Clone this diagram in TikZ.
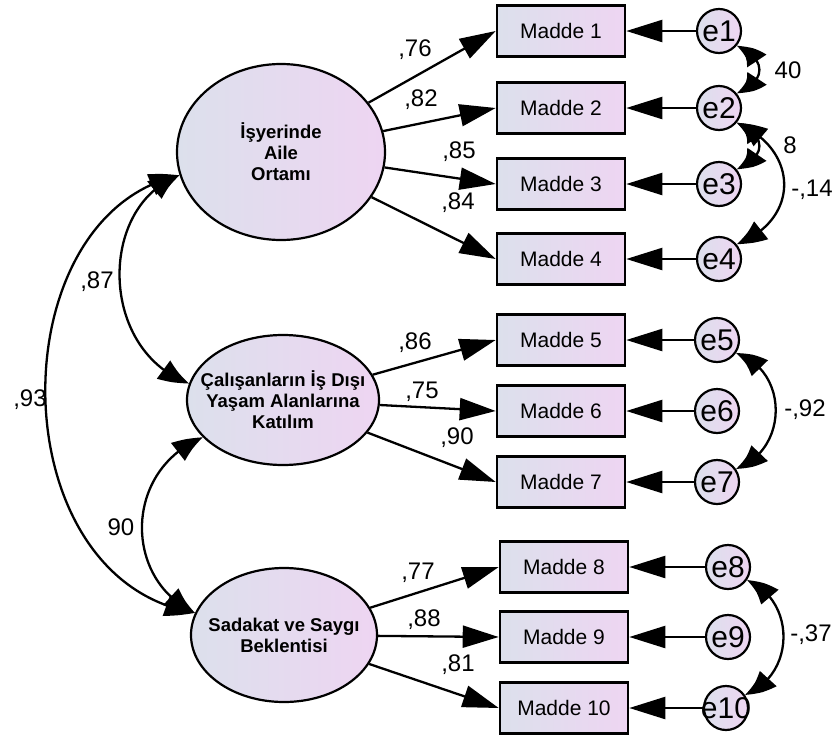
\documentclass[tikz,border=0pt]{standalone}
\usepackage{fontspec}
\setmainfont{Liberation Sans}
\usetikzlibrary{arrows.meta,shapes.geometric,bending}
\definecolor{gL}{HTML}{DCE0EC}
\definecolor{gR}{HTML}{EED5F2}
\begin{document}
\begin{tikzpicture}[x=1pt,y=-1pt,
  grad/.style={left color=gL, right color=gR},
  lat/.style={ellipse, draw, line width=2.2pt, grad, inner sep=0pt},
  lattxt/.style={font=\bfseries\fontsize{18.5}{21}\selectfont, align=center, inner sep=0pt},
  obs/.style={rectangle, draw, line width=2.6pt, grad, minimum width=128pt, minimum height=51pt, font=\fontsize{21}{24}\selectfont, inner sep=0pt},
  err/.style={circle, draw, line width=2.2pt, grad, minimum size=44pt, inner sep=0pt},
  etxt/.style={font=\fontsize{30}{32}\selectfont, inner sep=0pt},
  arr/.style={line width=2.3pt, -{Triangle[length=36pt,width=22pt]}},
  cov/.style={line width=2.3pt, {Triangle[length=30pt,width=22pt,bend]}-{Triangle[length=30pt,width=22pt,bend]}},
  lbl/.style={font=\fontsize{24}{26}\selectfont, inner sep=0pt}]
\useasboundingbox (0,0) rectangle (833,737);

% latent variables
\node[lat, minimum width=208pt, minimum height=176pt, label={[lattxt]center:İşyerinde\\Aile\\Ortamı}] (F1) at (281,152) {};
\node[lat, minimum width=192pt, minimum height=130pt, label={[lattxt]center:Çalışanların İş Dışı\\Yaşam Alanlarına\\Katılım}] (F2) at (283,400) {};
\node[lat, minimum width=186pt, minimum height=134pt, label={[lattxt]center:Sadakat ve Saygı\\Beklentisi}] (F3) at (284,635) {};

% observed variables
\foreach \i/\y in {1/31,2/108,3/184,4/259,5/340,6/411,7/482}{
  \node[obs] (M\i) at (561,\y) {Madde \i};
}
\foreach \i/\y in {8/567,9/637,10/708}{
  \node[obs] (M\i) at (564,\y) {Madde \i};
}

% errors
\foreach \i/\x/\y in {1/719/31,2/719/108,3/719/184,4/719/259,5/717/340,6/717/411,7/717/482,8/728/567,9/728/637,10/726/708}{
  \node[err, label={[etxt]center:e\i}] (e\i) at (\x,\y) {};
  \draw[arr] (e\i) -- (M\i);
}

% loadings
\foreach \i in {1,2,3,4}{\draw[arr] (F1) -- (M\i.west);}
\foreach \i in {5,6,7}{\draw[arr] (F2) -- (M\i.west);}
\foreach \i in {8,9,10}{\draw[arr] (F3) -- (M\i.west);}

\node[lbl] (l1) at (415,50) {,76};
\node[lbl] (l2) at (421,100) {,82};
\node[lbl] (l3) at (459,152) {,85};
\node[lbl] (l4) at (458,203) {,84};
\node[lbl] (l5) at (415,343) {,86};
\node[lbl] (l6) at (422,392) {,75};
\node[lbl] (l7) at (457,438) {,90};
\node[lbl] (l8) at (418,573) {,77};
\node[lbl] (l9) at (424,620) {,88};
\node[lbl] (l10) at (458,665) {,81};

% factor covariances labels
\node[lbl] (c87) at (97,282) {,87};
\node[lbl] (c93) at (30,400) {,93};
\node[lbl] (c90) at (121,527) {90};

% error covariance labels
\node[lbl] (c12) at (788,70) {40};
\node[lbl] (c23) at (790,145) {8};
\node[lbl] (c24) at (812,190) {-,14};
\node[lbl] (c57) at (805,410) {-,92};
\node[lbl] (c810) at (811,635) {-,37};

% factor covariances
\draw[cov] (F1.193) .. controls (-2,215) and (-2,580) .. (F3.166);
\draw[cov] (F1.193) .. controls (98,205) and (98,350) .. (F2.170);
\draw[cov] (F2.205) .. controls (123,470) and (123,580) .. (F3.166);

% error covariances
\draw[cov] (e1.-40) .. controls (767,58) and (767,82) .. (e2.40);
\draw[cov] (e2.-40) .. controls (767,135) and (767,157) .. (e3.40);
\draw[cov] (e2.-40) .. controls (800,150) and (800,220) .. (e4.40);
\draw[cov] (e5.-35) .. controls (789,370) and (789,450) .. (e7.35);
\draw[cov] (e8.-35) .. controls (796,600) and (796,675) .. (e10.35);
\end{tikzpicture}
\end{document}
